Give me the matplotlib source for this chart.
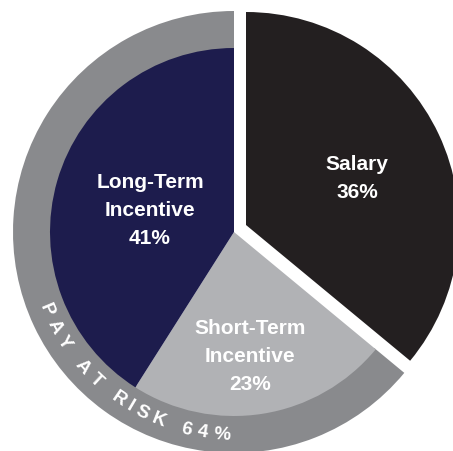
import numpy as np
import matplotlib
matplotlib.use("Agg")
import matplotlib.pyplot as plt
from matplotlib.textpath import TextPath
from matplotlib.font_manager import FontProperties

# ---- data ----
categories = ["Salary", "Short-Term\nIncentive", "Long-Term\nIncentive"]
values = [36, 23, 41]
ring_labels = ["", "PAY AT RISK"]
ring_values = [36, 64]

colors = ["#231f20", "#b1b2b5", "#1d1c4d"]
ring_color = "#898a8d"

W, H = 453, 451
fig = plt.figure(figsize=(W / 100, H / 100), dpi=100)
ax = fig.add_axes([0, 0, 1, 1])

cx, cy = 234, 219
R_in, R_out = 184, 221

# outer "pay at risk" ring
ax.pie(ring_values, radius=R_out, center=(cx, cy), startangle=90,
       counterclock=False, colors=["none", ring_color],
       wedgeprops=dict(width=R_out - R_in + 2, linewidth=0), frame=True)

# inner pie
wedges, _ = ax.pie(values, radius=R_in, center=(cx, cy), startangle=90,
                   counterclock=False, colors=colors,
                   wedgeprops=dict(linewidth=0), frame=True)
# salary slice pulled out and enlarged
wedges[0].set_center((246, 226))
wedges[0].set_radius(213)
ax.set_xlim(0, W)
ax.set_ylim(0, H)
ax.axis("off")

font = "Liberation Sans"
label_pos = [(357, 451 - 178), (250, 451 - 356), (150, 451 - 211)]
for name, v, (x, y) in zip(categories, values, label_pos):
    ax.text(x, y, f"{name}\n{v}%", ha="center", va="center", color="white",
            fontsize=15, fontweight="bold", family=font, linespacing=1.6)

# curved text along the ring
ring_text = f"{ring_labels[1]} {ring_values[1]}%"
fs = 13.5
fp = FontProperties(family=font, weight="bold", size=fs)
px = fs * 100 / 72
widths = []
for ch in ring_text:
    if ch == " ":
        w = TextPath((0, 0), "a a", prop=fp, size=px).get_extents().width - \
            TextPath((0, 0), "aa", prop=fp, size=px).get_extents().width
    else:
        w = TextPath((0, 0), ch, prop=fp, size=px).get_extents().width
    widths.append(w)
r_text = 203
a0, a1 = 202.7, 266.6
total_arc = np.deg2rad(a1 - a0) * r_text
n = len(ring_text)
base = sum(widths) - widths[0] / 2 - widths[-1] / 2
track = (total_arc - base) / (n - 1)
s = 0.0
for i, ch in enumerate(ring_text):
    if i > 0:
        s += widths[i - 1] / 2 + track + widths[i] / 2
    ang = a0 + np.rad2deg(s / r_text)
    t = np.deg2rad(ang)
    x = cx + r_text * np.cos(t)
    y = cy + r_text * np.sin(t)
    ax.text(x, y, ch, ha="center", va="center", rotation=ang + 90,
            rotation_mode="anchor", color="white", fontsize=fs,
            fontweight="bold", family=font)

fig.savefig("out.png", dpi=100, facecolor="white")
